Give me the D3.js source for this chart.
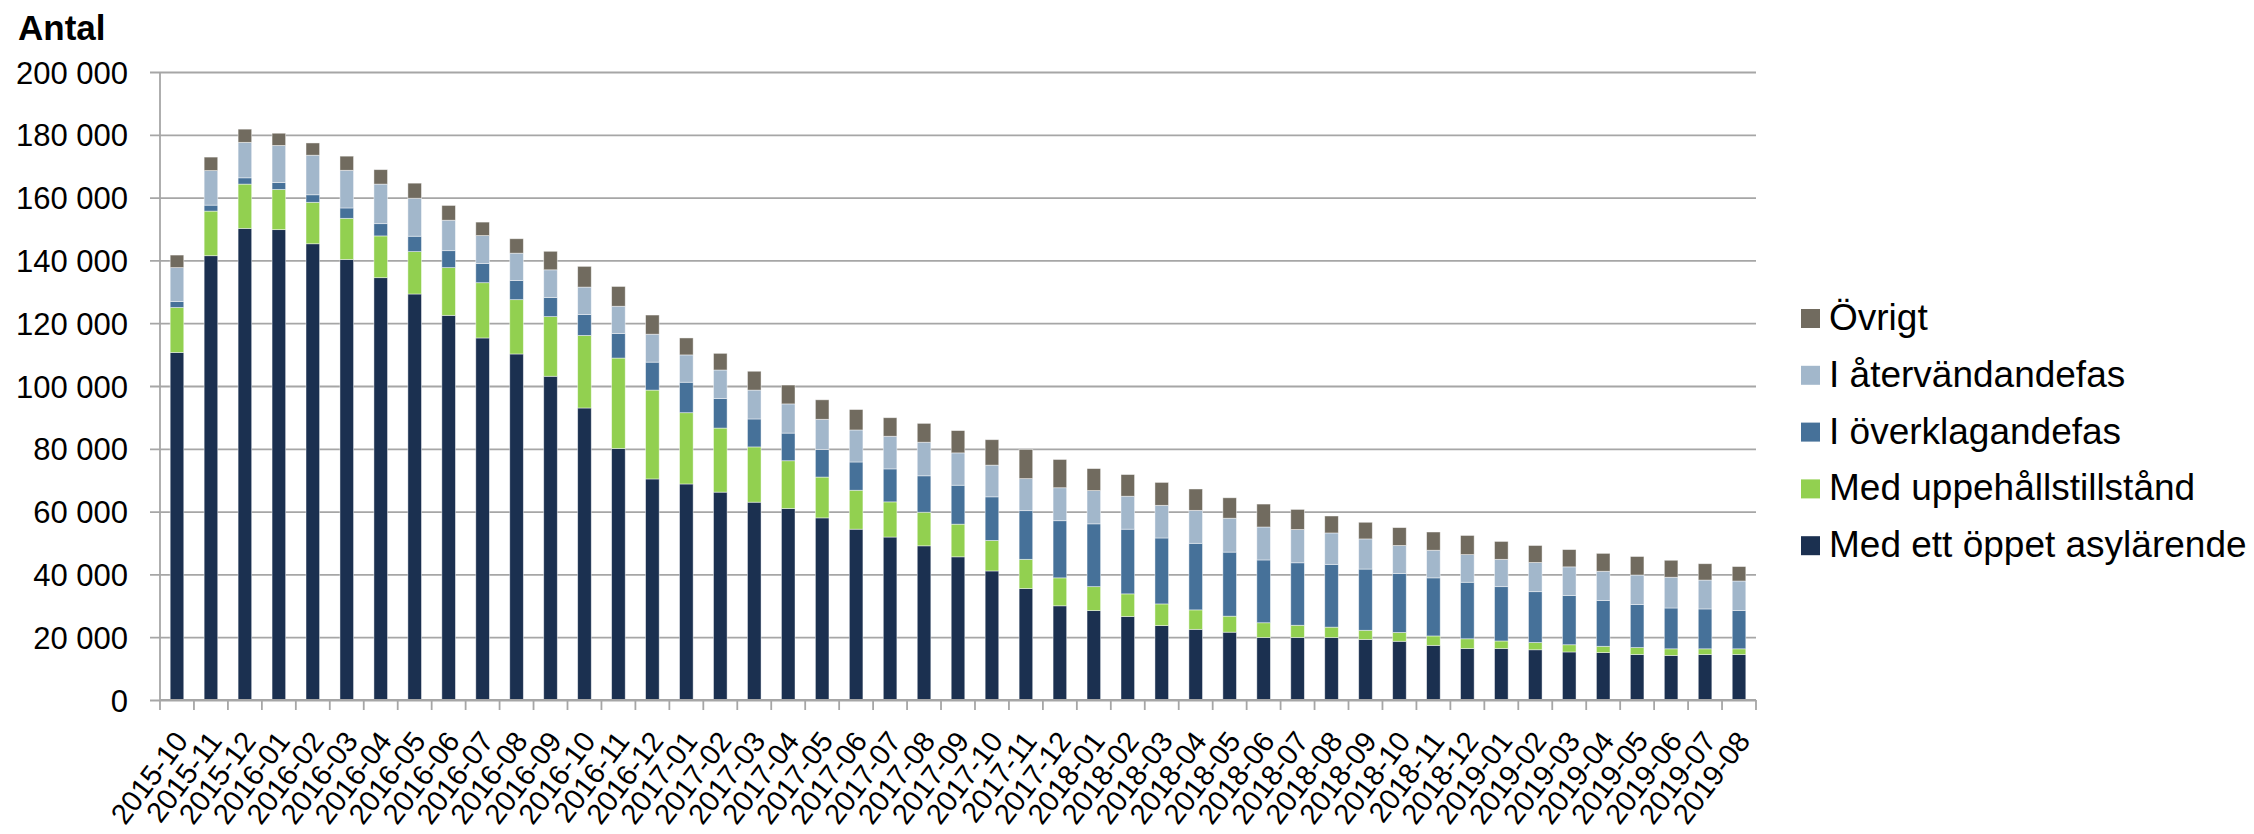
<!DOCTYPE html>
<html>
<head>
<meta charset="utf-8">
<script src="https://cdn.jsdelivr.net/npm/d3@7"></script>
<style>
  html, body { margin: 0; padding: 0; background: #fff; }
  svg { display: block; font-family: "Liberation Sans", Arial, sans-serif; }
</style>
</head>
<body>
<div id="chart"></div>
<script>
const months = ['2015-10','2015-11','2015-12',
  '2016-01','2016-02','2016-03','2016-04','2016-05','2016-06','2016-07','2016-08','2016-09','2016-10','2016-11','2016-12',
  '2017-01','2017-02','2017-03','2017-04','2017-05','2017-06','2017-07','2017-08','2017-09','2017-10','2017-11','2017-12',
  '2018-01','2018-02','2018-03','2018-04','2018-05','2018-06','2018-07','2018-08','2018-09','2018-10','2018-11','2018-12',
  '2019-01','2019-02','2019-03','2019-04','2019-05','2019-06','2019-07','2019-08'];

const asyl = [110700,141500,150200,149800,145300,140300,134500,129300,122500,115300,110200,103100,93000,80100,70400,68800,66200,63000,61000,58000,54400,51900,49100,45600,41100,35500,30000,28500,26600,23700,22500,21600,19900,19900,19900,19300,18700,17400,16400,16400,16000,15300,15100,14500,14200,14500,14500];
const uppeh = [14300,14200,14100,12800,13200,13100,13300,13500,15200,17600,17300,19000,23100,28800,28300,22700,20400,17600,15200,13000,12400,11200,10700,10400,9700,9300,8900,7600,7200,6900,6200,5100,4700,3900,3300,2900,2800,3000,3100,2400,2300,2300,2000,2200,2100,1800,1800];
const overkl = [1900,1900,2000,2200,2400,3300,3900,4900,5400,6100,6100,6100,6700,7800,8900,9700,9400,8900,8800,8800,9000,10500,11600,12400,13900,15500,18200,20000,20600,21000,21200,20400,20000,19900,20000,19500,18800,18500,18000,17300,16200,15700,14600,13700,13000,12700,12200];
const aterv = [10800,11000,11300,11800,12600,12000,12600,12100,9700,8900,8700,8800,8700,8700,8900,8700,9100,9200,9300,9600,10200,10400,10700,10300,10100,10200,10500,10600,10500,10400,10500,10800,10500,10600,10000,9600,8900,8800,8800,8700,9300,9100,9300,9400,9800,9200,9400];
const ovrigt = [4000,4300,4200,3900,3900,4500,4600,4800,4700,4300,4600,5900,6600,6300,6100,5400,5300,6000,6000,6200,6500,5900,6000,7100,8100,9300,9000,7000,6900,7300,6800,6500,7300,6400,5400,5300,5700,5800,6100,5700,5400,5500,5700,5900,5400,5200,4600];

const yTicks = [0,20000,40000,60000,80000,100000,120000,140000,160000,180000,200000];

// serier nedifrån och upp
const series = [
  { key: 'asyl',   name: 'Med ett öppet asylärende', values: asyl,   color: '#1b3050' },
  { key: 'uppeh',  name: 'Med uppehållstillstånd',   values: uppeh,  color: '#92d050' },
  { key: 'overkl', name: 'I överklagandefas',        values: overkl, color: '#467199' },
  { key: 'aterv',  name: 'I återvändandefas',        values: aterv,  color: '#a2b7cb' },
  { key: 'ovrigt', name: 'Övrigt',                   values: ovrigt, color: '#716b5f' }
];

const W = 2254, H = 834;
const plotL = 160, plotR = 1756, plotT = 72, plotB = 700;
const gridColor = '#a6a6a6';

const svg = d3.select('#chart').append('svg')
  .attr('width', W).attr('height', H);

const rows = months.map((m, i) => {
  const r = { month: m };
  series.forEach(s => { r[s.key] = s.values[i]; });
  return r;
});
const stacked = d3.stack().keys(series.map(s => s.key))(rows);

const x = d3.scaleBand().domain(months).range([plotL, plotR])
  .paddingInner(0.6).paddingOuter(0.3);
const y = d3.scaleLinear().domain([0, 200000]).range([plotB, plotT]);

const fmt = v => d3.format(',')(v).replace(/,/g, ' ');

// y-axel med stödlinjer
const yAxis = svg.append('g')
  .attr('transform', `translate(${plotL - 10},0)`)
  .call(d3.axisLeft(y).tickValues(yTicks).tickFormat(fmt)
    .tickSizeInner(-(plotR - plotL + 10)).tickSizeOuter(0).tickPadding(22));
yAxis.select('.domain').remove();
yAxis.selectAll('line').attr('stroke', gridColor).attr('stroke-width', 1.8);
yAxis.selectAll('text')
  .attr('font-size', 31).attr('fill', '#000')
  .attr('dy', '0.36em');

svg.append('line')
  .attr('x1', plotL).attr('x2', plotL)
  .attr('y1', y(200000)).attr('y2', plotB + 0.5)
  .attr('stroke', gridColor).attr('stroke-width', 1.8);

// staplar
svg.append('g').selectAll('g')
  .data(stacked)
  .join('g')
    .attr('fill', (d, i) => series[i].color)
  .selectAll('rect')
  .data(d => d)
  .join('rect')
    .attr('x', d => x(d.data.month))
    .attr('width', x.bandwidth())
    .attr('y', d => y(d[1]))
    .attr('height', d => y(d[0]) - y(d[1]))
    .attr('stroke', 'rgba(255,255,255,0.55)')
    .attr('stroke-width', 0.8);

// x-axel
const xAxisG = svg.append('g').attr('transform', `translate(0,${plotB})`);
xAxisG.append('line')
  .attr('x1', plotL).attr('x2', plotR)
  .attr('stroke', gridColor).attr('stroke-width', 1.8);
xAxisG.selectAll('.btick')
  .data(d3.range(months.length + 1))
  .join('line')
    .attr('class', 'btick')
    .attr('x1', i => x.range()[0] + i * x.step())
    .attr('x2', i => x.range()[0] + i * x.step())
    .attr('y1', 0).attr('y2', 10)
    .attr('stroke', gridColor).attr('stroke-width', 1.8);

const xLabels = xAxisG.append('g')
  .call(d3.axisBottom(x).tickSizeInner(0).tickSizeOuter(0));
xLabels.select('.domain').remove();
xLabels.selectAll('text')
  .attr('font-size', 29).attr('fill', '#000')
  .attr('x', 0).attr('y', 0).attr('dy', '0.36em')
  .attr('text-anchor', 'end')
  .attr('transform', 'translate(4,35) rotate(-53)');

// titel
svg.append('text')
  .attr('x', 18).attr('y', 40)
  .attr('font-size', 35).attr('font-weight', 'bold')
  .text('Antal');

// legend, uppifrån: Övrigt ... asylärende
const legend = svg.append('g').selectAll('g')
  .data(series.slice().reverse())
  .join('g')
    .attr('transform', (d, i) => `translate(1801,${330 + i * 56.8})`);
legend.append('rect')
  .attr('x', 0).attr('y', -21).attr('width', 19).attr('height', 19)
  .attr('fill', d => d.color);
legend.append('text')
  .attr('x', 28).attr('y', 0)
  .attr('font-size', 37)
  .text(d => d.name);
</script>
</body>
</html>
